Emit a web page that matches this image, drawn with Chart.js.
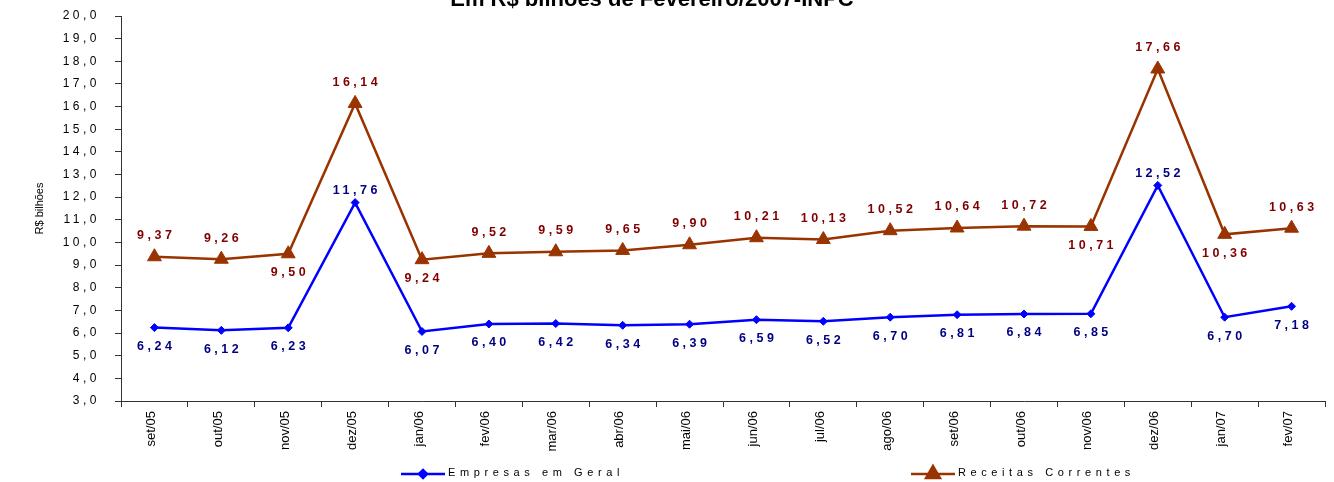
<!DOCTYPE html>
<html>
<head>
<meta charset="utf-8">
<script src="https://cdn.jsdelivr.net/npm/chart.js@4"></script>
<style>
  html, body { margin: 0; padding: 0; background: #fff; }
  #wrap { width: 1334px; height: 482px; position: relative; }
</style>
</head>
<body>
<div id="wrap"><canvas id="c" width="1334" height="482"></canvas></div>
<script>
// Monthly values, R$ billions (Feb/2007 prices, INPC)
const categories = ['set/05','out/05','nov/05','dez/05','jan/06','fev/06','mar/06','abr/06','mai/06',
                    'jun/06','jul/06','ago/06','set/06','out/06','nov/06','dez/06','jan/07','fev/07'];
const empresasEmGeral = [6.24, 6.12, 6.23, 11.76, 6.07, 6.40, 6.42, 6.34, 6.39,
                         6.59, 6.52, 6.70, 6.81, 6.84, 6.85, 12.52, 6.70, 7.18];
const receitasCorrentes = [9.37, 9.26, 9.50, 16.14, 9.24, 9.52, 9.59, 9.65, 9.90,
                           10.21, 10.13, 10.52, 10.64, 10.72, 10.71, 17.66, 10.36, 10.63];
// where each value label sits relative to its point
const empresasLabelPos = ['b','b','b','a','b','b','b','b','b','b','b','b','b','b','b','a','b','b'];
const receitasLabelPos = ['a','a','b','a','b','a','a','a','a','a','a','a','a','a','b','a','b','a'];
const yMin = 3, yMax = 20, yStep = 1;
const titleText = 'Em R$ bilhões de Fevereiro/2007-INPC';
const yAxisTitle = 'R$ bilhões';
const seriesNames = ['Empresas em Geral', 'Receitas Correntes'];

const BLUE = '#0000FF', BLUE_TXT = '#000080';
const BROWN = '#993300', BROWN_TXT = '#800000';
const FONT = 'Arial, "Liberation Sans", sans-serif';

const fmt = v => v.toFixed(2).replace('.', ',');

// Spaced-out text helper (centre / right alignment corrected for trailing spacing)
function spacedText(ctx, text, x, y, spacing, align) {
  ctx.save();
  ctx.letterSpacing = spacing + 'px';
  ctx.textAlign = 'left';
  const w = ctx.measureText(text).width - spacing;
  let sx = x;
  if (align === 'center') sx = x - w / 2;
  else if (align === 'right') sx = x - w;
  ctx.fillText(text, sx, y);
  ctx.restore();
}

const valueLabels = {
  id: 'valueLabels',
  afterDatasetsDraw(chart) {
    const ctx = chart.ctx;
    const sets = [
      { idx: 0, pos: empresasLabelPos, color: BLUE_TXT, above: 12, below: 19 },
      { idx: 1, pos: receitasLabelPos, color: BROWN_TXT, above: 21, below: 19 }
    ];
    ctx.save();
    ctx.font = 'bold 12.5px ' + FONT;
    ctx.textBaseline = 'middle';
    sets.forEach(s => {
      const meta = chart.getDatasetMeta(s.idx);
      const data = chart.data.datasets[s.idx].data;
      meta.data.forEach((pt, i) => {
        const y = s.pos[i] === 'a' ? pt.y - s.above : pt.y + s.below;
        ctx.fillStyle = s.color;
        spacedText(ctx, fmt(data[i]), pt.x, y, 3.5, 'center');
      });
    });
    ctx.restore();
  }
};

const headerAndLegend = {
  id: 'headerAndLegend',
  afterLayout(chart) {
    // y tick labels are letter-spaced
    const s = chart.scales.y;
    if (!s._spacedLabels) {
      const orig = s.drawLabels;
      s.drawLabels = function (area) {
        const ctx = chart.ctx;
        ctx.save();
        ctx.letterSpacing = '3.5px';
        orig.call(this, area);
        ctx.restore();
      };
      s._spacedLabels = true;
    }
  },
  afterDraw(chart) {
    const ctx = chart.ctx;
    ctx.save();
    // title (top edge of the canvas)
    ctx.font = 'bold 22px ' + FONT;
    ctx.fillStyle = '#000';
    ctx.textAlign = 'center';
    ctx.textBaseline = 'alphabetic';
    ctx.fillText(titleText, 652, 6);

    // legend
    const ly = 474;
    const items = [
      { x: 401, color: BLUE, style: 'rectRot', r: 4, text: seriesNames[0] },
      { x: 911, color: BROWN, style: 'triangle', r: 8, text: seriesNames[1] }
    ];
    items.forEach(it => {
      ctx.strokeStyle = it.color;
      ctx.lineWidth = 2.5;
      ctx.beginPath();
      ctx.moveTo(it.x, ly);
      ctx.lineTo(it.x + 44, ly);
      ctx.stroke();
      ctx.fillStyle = it.color;
      Chart.helpers.drawPoint(ctx, {
        pointStyle: it.style, radius: it.r, borderWidth: 1, rotation: 0
      }, it.x + 22, ly);
      ctx.fill();
      ctx.fillStyle = '#000';
      ctx.font = '11px ' + FONT;
      ctx.textBaseline = 'middle';
      spacedText(ctx, it.text, it.x + 47, ly - 1, 4.6, 'left');
    });
    ctx.restore();
  }
};

new Chart(document.getElementById('c'), {
  type: 'line',
  data: {
    labels: categories,
    datasets: [
      {
        label: seriesNames[0],
        data: empresasEmGeral,
        borderColor: BLUE,
        backgroundColor: BLUE,
        borderWidth: 2.5,
        pointStyle: 'rectRot',
        pointRadius: 4,
        pointBorderWidth: 1,
        tension: 0
      },
      {
        label: seriesNames[1],
        data: receitasCorrentes,
        borderColor: BROWN,
        backgroundColor: BROWN,
        borderWidth: 2.5,
        pointStyle: 'triangle',
        pointRadius: 8,
        pointBorderWidth: 1,
        tension: 0
      }
    ]
  },
  options: {
    responsive: false,
    animation: false,
    devicePixelRatio: 1,
    layout: { padding: { top: 16, right: 8, bottom: 31, left: 0 } },
    plugins: {
      legend: { display: false },
      title: { display: false },
      tooltip: { enabled: false }
    },
    scales: {
      x: {
        offset: true,
        grid: { display: true, drawOnChartArea: false, offset: true, tickLength: 6, color: '#333', tickWidth: 1 },
        border: { color: '#333', width: 1 },
        ticks: {
          color: '#000',
          font: { family: FONT, size: 13 },
          maxRotation: 90, minRotation: 90,
          autoSkip: false,
          padding: 4,
          labelOffset: -3
        },
        afterFit(scale) { scale.height = 50; }
      },
      y: {
        min: yMin, max: yMax,
        grid: { display: true, drawOnChartArea: false, tickLength: 6, color: '#333', tickWidth: 1 },
        border: { color: '#333', width: 1 },
        ticks: {
          stepSize: yStep,
          color: '#000',
          font: { family: FONT, size: 12 },
          padding: 15,
          callback: v => v.toFixed(1).replace('.', ',')
        },
        title: {
          display: true,
          text: yAxisTitle,
          color: '#000',
          font: { family: FONT, size: 11 },
          padding: { top: 33, bottom: 0 }
        },
        afterFit(scale) {
          scale.width = 121;
          scale.paddingTop = 0;
          scale.paddingBottom = 0;
        }
      }
    }
  },
  plugins: [valueLabels, headerAndLegend]
});
</script>
</body>
</html>
